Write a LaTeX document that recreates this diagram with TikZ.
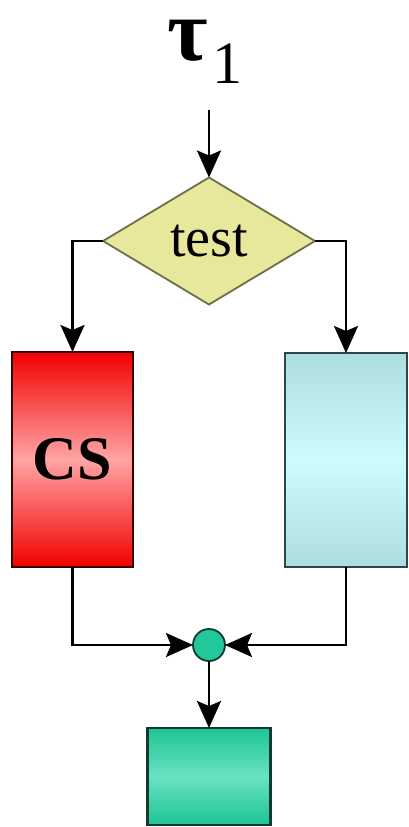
\documentclass[tikz,border=0pt]{standalone}
\usepackage{fontspec}
\setmainfont{Liberation Serif}
\usetikzlibrary{shapes.geometric,arrows.meta}
\definecolor{testfill}{HTML}{E8E89C}
\definecolor{testdraw}{HTML}{6E6E4A}
\definecolor{csedge}{HTML}{F20000}
\definecolor{csmid}{HTML}{FFA4A4}
\definecolor{csdraw}{HTML}{3A0000}
\definecolor{altedge}{HTML}{ADDDDD}
\definecolor{altmid}{HTML}{CCFCFC}
\definecolor{altdraw}{HTML}{2E4646}
\definecolor{outedge}{HTML}{1EC494}
\definecolor{outmid}{HTML}{68E2C2}
\definecolor{outdraw}{HTML}{0E3A30}
\definecolor{joinfill}{HTML}{22C79C}
\begin{document}
\begin{tikzpicture}[x=1pt,y=-1pt,
  conn/.style={line width=2.6pt, draw=black},
  arr/.style={conn, -{Stealth[length=27pt,width=24pt,inset=5pt]}},
  block/.style={rectangle, line width=2.2pt, inner sep=0pt, outer sep=0pt},
  decision/.style={diamond, draw=testdraw, fill=testfill, line width=1.8pt,
    inner sep=0pt, outer sep=0pt, minimum width=212pt, minimum height=127pt},
  junction/.style={circle, draw=outdraw, fill=joinfill, line width=1.8pt,
    inner sep=0pt, outer sep=0pt, minimum size=32pt}
]
\useasboundingbox (0,0) rectangle (408,827);

% process label
\node[anchor=base, inner sep=0pt, text height=46pt, text depth=24pt] (tau) at (205,60)
  {\fontsize{88}{88}\selectfont\bfseries τ\kern 4pt\raisebox{-23pt}{\fontsize{60}{60}\selectfont\mdseries 1}};
\coordinate (entry) at (209,110);

% decision and the two branches
\node[decision] (test) at (209,241) {\fontsize{56}{56}\selectfont\raisebox{-12pt}{test}};
\node[block, draw=csdraw, minimum width=121pt, minimum height=215pt,
  top color=csedge, bottom color=csedge, middle color=csmid] (cs) at (72.5,459.5)
  {\fontsize{62}{62}\selectfont\bfseries CS};
\node[block, draw=altdraw, minimum width=122pt, minimum height=214pt,
  top color=altedge, bottom color=altedge, middle color=altmid] (alt) at (346,460) {};

% merge point and the following block
\node[junction] (join) at (209,645) {};
\node[block, draw=outdraw, minimum width=123pt, minimum height=97pt,
  top color=outedge, bottom color=outedge, middle color=outmid] (out) at (209,776.5) {};

% connectors
\draw[arr] (entry) -- (test.north);
\draw[arr] (test.west) -| (cs.north);
\draw[arr] (test.east) -| (alt.north);
\draw[arr] (cs.south) |- (join.west);
\draw[arr] (alt.south) |- (join.east);
\draw[arr] (join.south) -- (out.north);
\end{tikzpicture}
\end{document}
